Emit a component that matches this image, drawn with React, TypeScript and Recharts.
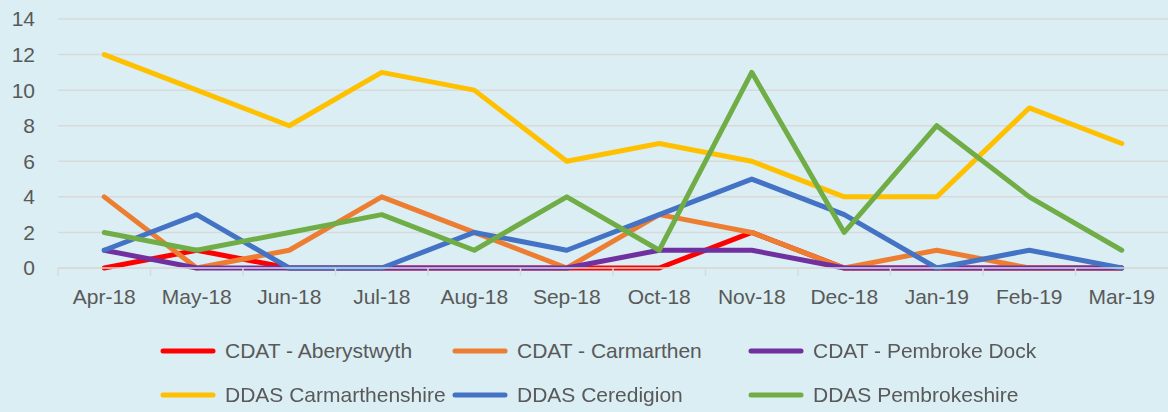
import React from "react";
import {
  LineChart,
  Line,
  XAxis,
  YAxis,
  CartesianGrid,
  Legend,
} from "recharts";

const months = [
  "Apr-18", "May-18", "Jun-18", "Jul-18", "Aug-18", "Sep-18",
  "Oct-18", "Nov-18", "Dec-18", "Jan-19", "Feb-19", "Mar-19",
];

const cdatAberystwyth = [0, 1, 0, 0, 0, 0, 0, 2, 0, 0, 0, 0];
const cdatCarmarthen = [4, 0, 1, 4, 2, 0, 3, 2, 0, 1, 0, 0];
const cdatPembrokeDock = [1, 0, 0, 0, 0, 0, 1, 1, 0, 0, 0, 0];
const ddasCarmarthenshire = [12, 10, 8, 11, 10, 6, 7, 6, 4, 4, 9, 7];
const ddasCeredigion = [1, 3, 0, 0, 2, 1, 3, 5, 3, 0, 1, 0];
const ddasPembrokeshire = [2, 1, 2, 3, 1, 4, 1, 11, 2, 8, 4, 1];

const yTicks = [0, 2, 4, 6, 8, 10, 12, 14];

const series = [
  { key: "aber", name: "CDAT - Aberystwyth", color: "#FF0000", values: cdatAberystwyth },
  { key: "carm", name: "CDAT - Carmarthen", color: "#ED7D31", values: cdatCarmarthen },
  { key: "pemb", name: "CDAT - Pembroke Dock", color: "#7030A0", values: cdatPembrokeDock },
  { key: "ddasCarm", name: "DDAS Carmarthenshire", color: "#FFC000", values: ddasCarmarthenshire },
  { key: "ddasCere", name: "DDAS Ceredigion", color: "#4472C4", values: ddasCeredigion },
  { key: "ddasPemb", name: "DDAS Pembrokeshire", color: "#70AD47", values: ddasPembrokeshire },
];

const data = months.map((month, i) => {
  const row: Record<string, string | number> = { month };
  series.forEach((s) => {
    row[s.key] = s.values[i];
  });
  return row;
});

const WIDTH = 1168;
const HEIGHT = 412;
const LEFT = 58;
const halfStep = (WIDTH - LEFT) / months.length / 2;
const FONT = "'Liberation Sans', Arial, sans-serif";
const TEXT = "#595959";
const GRID = "#D9D9D9";

// month label plus the small tick between categories
const MonthTick = (props: any) => {
  const { x, y, payload } = props;
  return (
    <g>
      <line x1={x - halfStep} y1={y} x2={x - halfStep} y2={y + 8} stroke={GRID} strokeWidth={1.5} />
      <text x={x} y={y + 36} textAnchor="middle" fill={TEXT} fontSize={21} fontFamily={FONT}>
        {payload.value}
      </text>
    </g>
  );
};

const renderLegend = () => (
  <div
    style={{
      display: "grid",
      gridTemplateColumns: "292px 296px 296px",
      paddingLeft: 160,
      fontFamily: FONT,
      fontSize: 21,
      color: TEXT,
    }}
  >
    {series.map((s) => (
      <div key={s.key} style={{ display: "flex", alignItems: "center", height: 44, gap: 9 }}>
        <svg width="56" height="8">
          <line x1="3" y1="4" x2="53" y2="4" stroke={s.color} strokeWidth={5} strokeLinecap="round" />
        </svg>
        <span style={{ whiteSpace: "nowrap" }}>{s.name}</span>
      </div>
    ))}
  </div>
);

export default function App() {
  return (
    <div style={{ position: "fixed", left: 0, top: 0, width: WIDTH, height: HEIGHT, background: "#DAEEF3" }}>
      <LineChart
        width={WIDTH}
        height={HEIGHT}
        data={data}
        margin={{ top: 19, right: 0, left: 0, bottom: 114 }}
      >
        <CartesianGrid horizontal vertical={false} stroke={GRID} strokeWidth={1.5} />
        <XAxis
          dataKey="month"
          height={30}
          padding={{ left: halfStep, right: halfStep }}
          axisLine={{ stroke: GRID, strokeWidth: 1.5 }}
          tickLine={false}
          tickSize={0}
          tickMargin={0}
          interval={0}
          tick={<MonthTick />}
        />
        <YAxis
          width={LEFT}
          domain={[0, 14]}
          ticks={yTicks}
          axisLine={false}
          tickLine={false}
          tickSize={0}
          tickMargin={23}
          tick={{ fill: TEXT, fontSize: 21, fontFamily: FONT }}
        />
        <Legend
          verticalAlign="middle"
          align="center"
          content={renderLegend}
          wrapperStyle={{ top: 329, left: 0, width: WIDTH }}
        />
        {series.map((s) => (
          <Line
            key={s.key}
            type="linear"
            dataKey={s.key}
            name={s.name}
            stroke={s.color}
            strokeWidth={5}
            strokeLinejoin="round"
            strokeLinecap="round"
            dot={false}
            activeDot={false}
            isAnimationActive={false}
          />
        ))}
      </LineChart>
    </div>
  );
}
